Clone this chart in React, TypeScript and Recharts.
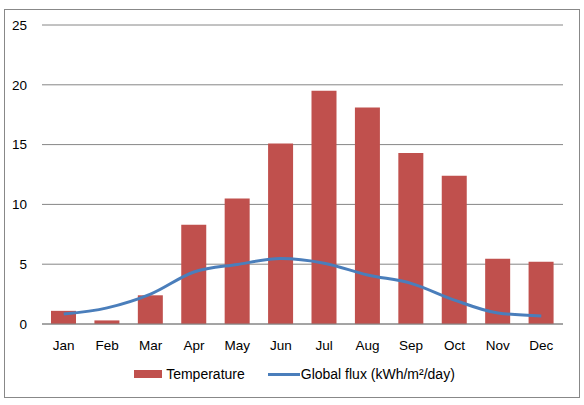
import React from "react";
import { ComposedChart, Bar, Line, XAxis, YAxis, CartesianGrid, Legend } from "recharts";

const months = ["Jan", "Feb", "Mar", "Apr", "May", "Jun", "Jul", "Aug", "Sep", "Oct", "Nov", "Dec"];
const temperature = [1.1, 0.3, 2.4, 8.3, 10.5, 15.1, 19.5, 18.1, 14.3, 12.4, 5.45, 5.2];
const globalFlux = [0.83, 1.35, 2.5, 4.35, 4.98, 5.47, 5.08, 4.1, 3.4, 2.0, 0.92, 0.67];
const yTicks = [0, 5, 10, 15, 20, 25];

const data = months.map((m, i) => ({ month: m, temperature: temperature[i], flux: globalFlux[i] }));

const FONT = "'Liberation Sans', Arial, sans-serif";
const RED = "#c0504d";
const BLUE = "#4a7ebb";

const LegendContent = () => (
  <div
    style={{
      display: "flex",
      justifyContent: "center",
      alignItems: "center",
      fontFamily: FONT,
      fontSize: 14,
      color: "#000",
      height: 20,
      paddingLeft: 26,
    }}
  >
    <span style={{ display: "inline-block", width: 28, height: 8, background: RED, marginRight: 4 }} />
    <span style={{ marginRight: 23 }}>Temperature</span>
    <span style={{ display: "inline-block", width: 32, height: 3, background: BLUE, marginRight: 1 }} />
    <span>Global flux (kWh/m²/day)</span>
  </div>
);

export default function App() {
  return (
    <div style={{ position: "absolute", left: 0, top: 0, width: 584, height: 405, background: "#fff" }}>
      <div
        style={{
          position: "absolute",
          left: 4,
          top: 9,
          width: 574,
          height: 387,
          border: "1px solid #888",
        }}
      />
      <div style={{ position: "absolute", left: 0, top: 0 }}>
        <ComposedChart
          width={584}
          height={405}
          data={data}
          margin={{ top: 25, right: 21, left: 0, bottom: 21 }}
          barCategoryGap={0}
        >
          <CartesianGrid vertical={false} stroke="#868686" strokeWidth={1} />
          <XAxis
            dataKey="month"
            height={40}
            tickLine={false}
            tickSize={0}
            tickMargin={16}
            axisLine={{ stroke: "#868686" }}
            tick={{ fill: "#000", fontSize: 13.5, fontFamily: FONT }}
            interval={0}
          />
          <YAxis
            width={42}
            domain={[0, 25]}
            ticks={yTicks}
            tickLine={false}
            tickSize={0}
            tickMargin={15}
            axisLine={false}
            tick={{ fill: "#000", fontSize: 13.5, fontFamily: FONT }}
          />
          <Legend verticalAlign="bottom" content={<LegendContent />} />
          <Bar dataKey="temperature" name="Temperature" fill={RED} barSize={25} isAnimationActive={false} />
          <Line
            dataKey="flux"
            name="Global flux (kWh/m²/day)"
            type="monotone"
            stroke={BLUE}
            strokeWidth={3}
            dot={false}
            activeDot={false}
            isAnimationActive={false}
          />
        </ComposedChart>
      </div>
    </div>
  );
}
